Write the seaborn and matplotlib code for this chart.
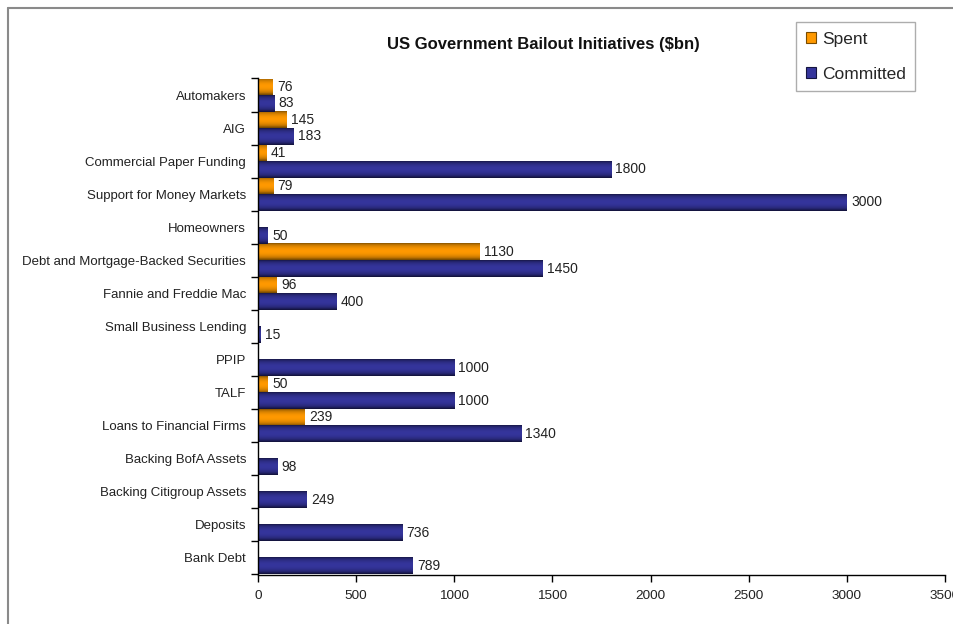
import numpy as np
import pandas as pd
import matplotlib
matplotlib.use("Agg")
import matplotlib.pyplot as plt
from matplotlib.lines import Line2D
from matplotlib.patches import Patch
from matplotlib.colors import to_rgb
import seaborn as sns

categories = [
    "Automakers", "AIG", "Commercial Paper Funding", "Support for Money Markets",
    "Homeowners", "Debt and Mortgage-Backed Securities", "Fannie and Freddie Mac",
    "Small Business Lending", "PPIP", "TALF", "Loans to Financial Firms",
    "Backing BofA Assets", "Backing Citigroup Assets", "Deposits", "Bank Debt",
]
spent = [76, 145, 41, 79, np.nan, 1130, 96, np.nan, np.nan, 50, 239,
         np.nan, np.nan, np.nan, np.nan]
committed = [83, 183, 1800, 3000, 50, 1450, 400, 15, 1000, 1000, 1340,
             98, 249, 736, 789]
series_names = ["Spent", "Committed"]
x_ticks = [0, 500, 1000, 1500, 2000, 2500, 3000, 3500]

df = pd.DataFrame({
    "category": categories * 2,
    "series": [series_names[0]] * len(categories) + [series_names[1]] * len(categories),
    "value": spent + committed,
})

sns.set_theme(style="white")
plt.rcParams["font.family"] = ["Liberation Sans", "DejaVu Sans"]

# gradient endpoints (edge shade, centre shade) for each series
shades = {
    "Spent": ("#7a4c00", "#ff9900"),
    "Committed": ("#14143f", "#35359c"),
}

W, H = 954, 624
fig = plt.figure(figsize=(W / 100, H / 100), dpi=100)
ax = fig.add_axes([258 / W, 1 - 574.5 / H, 687 / W, 496 / H])

sns.barplot(data=df, y="category", x="value", hue="series", orient="h",
            order=categories, hue_order=series_names, dodge=True, width=1.0,
            palette=[shades[s][1] for s in series_names], ax=ax,
            legend=False, saturation=1, edgecolor="none")

def gradient_image(edge, mid, n=64):
    e = np.array(to_rgb(edge))
    m = np.array(to_rgb(mid))
    t = np.linspace(0, 1, n)
    w = np.sin(np.pi * np.clip(t * 1.05, 0, 1)) ** 0.55
    return (e[None, :] * (1 - w[:, None]) + m[None, :] * w[:, None])[:, None, :]

# replace flat fills with a vertical shaded gradient
for container, name in zip(ax.containers, series_names):
    img = gradient_image(*shades[name])
    for bar in container:
        w = bar.get_width()
        if not np.isfinite(w) or w <= 0:
            continue
        y0 = bar.get_y()
        h = bar.get_height()
        x0 = bar.get_x()
        bar.set_facecolor("none")
        ax.imshow(img, extent=[x0, x0 + w, y0 + h, y0], aspect="auto",
                  interpolation="bilinear", zorder=2)
    ax.bar_label(container, labels=[f"{v:.0f}" if np.isfinite(v) and v > 0 else ""
                                    for v in container.datavalues],
                 padding=3, fontsize=10, color="#222222")

ax.set_xlim(0, 3500)
ax.set_ylim(len(categories) - 0.5, -0.5)
ax.set_xticks(x_ticks)
ax.set_xticklabels([str(t) for t in x_ticks])
ax.set_yticks(range(len(categories)))
ax.set_yticklabels(categories)
ax.set_yticks(np.arange(-0.5, len(categories), 1.0), minor=True)
ax.tick_params(axis="y", which="major", length=0, pad=8.5, labelsize=9.5, colors="#222222")
ax.tick_params(axis="y", which="minor", length=5, width=1, color="black", left=True)
ax.tick_params(axis="x", which="major", length=5, width=1, color="black", bottom=True,
               labelsize=9.7, labelcolor="#222222", pad=6)
ax.set_xlabel("")
ax.set_ylabel("")
for side in ("top", "right"):
    ax.spines[side].set_visible(False)
for side in ("left", "bottom"):
    ax.spines[side].set_color("black")
    ax.spines[side].set_linewidth(1.0)
ax.grid(False)

fig.text(543 / W, 1 - 45 / H, "US Government Bailout Initiatives ($bn)",
         ha="center", va="center", fontsize=12, fontweight="bold", color="#111111")

handles = [Patch(facecolor=shades[s][1], edgecolor=shades[s][0], linewidth=0.8)
           for s in series_names]
leg = fig.legend(handles, series_names, loc="upper left",
                 bbox_to_anchor=(796 / W, 1 - 22 / H), frameon=True, fancybox=False,
                 fontsize=12.5, handlelength=0.6, handleheight=0.6, handletextpad=0.35,
                 labelspacing=1.15, borderpad=0.55, borderaxespad=0)
leg.get_frame().set_edgecolor("#999999")
leg.get_frame().set_linewidth(1.0)

# outer chart-area frame edges
fig.add_artist(Line2D([8 / W, 1], [1 - 8 / H, 1 - 8 / H], color="#8a8a8a", lw=1.5,
                      transform=fig.transFigure))
fig.add_artist(Line2D([8 / W, 8 / W], [0, 1 - 8 / H], color="#8a8a8a", lw=1.5,
                      transform=fig.transFigure))

fig.savefig("out.png", dpi=100)
